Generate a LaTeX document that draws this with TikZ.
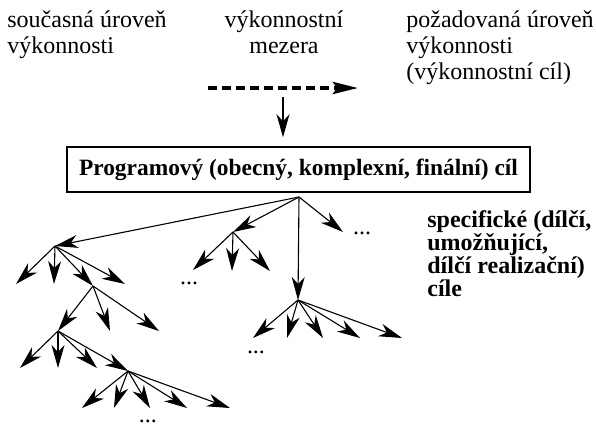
\documentclass[tikz,border=0pt]{standalone}
\usepackage{fontspec}
\setmainfont{Liberation Serif}
\usetikzlibrary{arrows.meta}
\tikzset{
  tip/.style={-{Stealth[length=11.5pt,width=6.5pt,inset=3.5pt]}},
  branch/.style={tip,line width=0.55pt},
  gaparrow/.style={-{Stealth[length=12.5pt,width=6pt,inset=2pt]},line width=1.8pt,dash pattern=on 4.5pt off 2.5pt},
  headtext/.style={font=\fontsize{12}{13}\selectfont,align=left,inner sep=0pt},
  goalbox/.style={draw,line width=0.8pt,minimum width=231.5pt,minimum height=22.5pt,inner sep=0pt,font=\fontsize{11.7}{13}\selectfont\bfseries},
  sidetext/.style={font=\fontsize{12}{11.35}\selectfont\bfseries,align=left,inner sep=0pt},
  more/.style={font=\fontsize{12}{13}\selectfont,inner sep=0pt,anchor=base},
}
\begin{document}
\begin{tikzpicture}[x=0.5pt,y=-0.5pt]
  \useasboundingbox (0,0) rectangle (596,425);
  % top line: current level, gap, wanted level (base = last line)
  \node[headtext,anchor=base west] (now) at (7,53) {současná úroveň\\výkonnosti};
  \node[headtext,anchor=base,align=center] (gap) at (284,53) {výkonnostní\\mezera};
  \node[headtext,anchor=base west] (want) at (406,79) {požadovaná úroveň\\výkonnosti\\(výkonnostní cíl)};
  \coordinate (gapL) at (208,88);
  \coordinate (gapR) at (358,88);
  \draw[gaparrow] (gapL) -- (gapR);
  \node[goalbox] (goal) at (298.5,169.5) {Programový (obecný, komplexní, finální) cíl};
  \coordinate (gapD) at (283,97);
  \draw[branch,shorten >=4.5pt] (gapD) -- (gapD |- goal.north);
  % tree of the specific goals
  \coordinate (root) at (299,197);
  \coordinate (A) at (55,246);
  \coordinate (B) at (233,232);
  \coordinate (C) at (298,300);
  \coordinate (D) at (343,232);
  \coordinate (A2) at (93,286);
  \coordinate (A3) at (58,331);
  \coordinate (A4) at (128,371);
  \foreach \x/\y [count=\i] in {16/284,54/284,125/284,110/331,159/331,20/368,58/368,97/368,
                                82/408,114/408,150/408,187/408,230/408}
    \coordinate (a\i) at (\x,\y);
  \foreach \x/\y [count=\i] in {193/270,232/271,270/271}
    \coordinate (b\i) at (\x,\y);
  \foreach \x/\y [count=\i] in {253/338,287/338,323/338,360/338,402/338}
    \coordinate (c\i) at (\x,\y);
  \foreach \from/\to in {root/A,root/B,root/C,root/D,
      A/a1,A/a2,A/A2,A/a3, A2/A3,A2/a4,A2/a5, A3/a6,A3/a7,A3/a8,A3/A4,
      A4/a9,A4/a10,A4/a11,A4/a12,A4/a13, B/b1,B/b2,B/b3, C/c1,C/c2,C/c3,C/c4,C/c5}
    \draw[branch] (\from) -- (\to);
  \node[more] (moreB) at (189,284.5) {...};
  \node[more] (moreC) at (256,353.5) {...};
  \node[more] (moreD) at (362,234.5) {...};
  \node[more] (moreA) at (148,422.5) {...};
  \node[sidetext,anchor=base west] (spec) at (427,296) {specifické (dílčí,\\umožňující,\\dílčí realizační)\\cíle};
\end{tikzpicture}
\end{document}
